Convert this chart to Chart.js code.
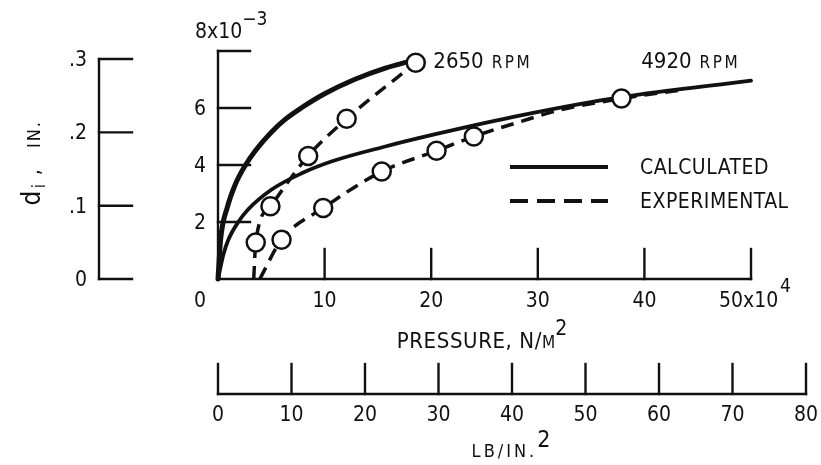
<!DOCTYPE html>
<html>
<head>
<meta charset="utf-8">
<script src="https://cdn.jsdelivr.net/npm/chart.js@4"></script>
<style>
  html, body { margin: 0; padding: 0; background: #fff; }
  #wrap { width: 821px; height: 465px; position: relative; }
</style>
</head>
<body>
<div id="wrap"><canvas id="chart"></canvas></div>
<script>
// ============================================
// Pressure vs d_i chart
// ============================================

// pressure in units of 1e4 N/m^2, d_i in units of 1e-3 m
const PSI_TO_1E4NM2 = 0.689476;   // 1 lb/in^2 = 0.689476 x 10^4 N/m^2

// axis ticks
const xTicksMain = [0, 10, 20, 30, 40, 50];
const yTicksMain = [2, 4, 6, 8];
const yTicksIn = [0, 0.1, 0.2, 0.3];
const yTickInLabels = ['0', '.1', '.2', '.3'];
const xTicksLb = [0, 10, 20, 30, 40, 50, 60, 70, 80];

// calculated curves
const calc2650X = [0, 0.25, 0.9, 1.6, 2.5, 3.5, 5.0, 6.3, 7.8, 10.0, 12.8, 15.7, 17.8];
const calc2650Y = [0, 1.4, 2.55, 3.3, 3.95, 4.5, 5.15, 5.6, 6.0, 6.5, 7.0, 7.4, 7.62];
const calc4920X = [0, 0.5, 1.0, 1.9, 2.8, 5.0, 7.8, 10.7, 15.7, 20.4, 28.4, 37.8, 50];
const calc4920Y = [0, 0.85, 1.4, 2.0, 2.43, 3.13, 3.7, 4.13, 4.65, 5.08, 5.74, 6.38, 6.96];

// experimental curves (mark = 1 where a circle is drawn)
const exp2650X = [3.35, 3.54, 4.92, 8.46, 12.07, 18.55];
const exp2650Y = [0, 1.28, 2.55, 4.32, 5.62, 7.59];
const exp2650Marks = [0, 1, 1, 1, 1, 1];
const exp4920X = [3.92, 5.96, 9.87, 15.36, 20.5, 24.0, 28.35, 32.1, 37.85, 43.4];
const exp4920Y = [0, 1.38, 2.49, 3.77, 4.5, 5.0, 5.52, 5.93, 6.33, 6.63];
const exp4920Marks = [0, 1, 1, 1, 1, 1, 0, 0, 1, 0];

const INK = '#111';
const FONT = '"DejaVu Sans Condensed", "Liberation Sans Narrow", "DejaVu Sans", sans-serif';

function pts(xs, ys) {
    return xs.map((x, i) => ({ x: x, y: ys[i] }));
}

function expDataset(xs, ys, marks) {
    return {
        data: pts(xs, ys),
        borderColor: INK,
        borderWidth: 3.5,
        borderDash: [13, 8],
        cubicInterpolationMode: 'monotone',
        pointRadius: marks.map(m => m ? 9 : 0),
        pointBackgroundColor: '#fff',
        pointBorderColor: INK,
        pointBorderWidth: 2.5,
        clip: false
    };
}

function calcDataset(xs, ys, width) {
    return {
        data: pts(xs, ys),
        borderColor: INK,
        borderWidth: width,
        borderJoinStyle: 'round',
        borderCapStyle: 'round',
        cubicInterpolationMode: 'monotone',
        pointRadius: 0,
        clip: false
    };
}

// draw a row of text pieces: [text, size, dy, letterSpacing]
function drawRuns(ctx, parts, x, y, align) {
    const setFont = p => {
        ctx.font = p[1] + 'px ' + FONT;
        ctx.letterSpacing = (p[3] || 0) + 'px';
    };
    let total = 0;
    parts.forEach(p => {
        setFont(p);
        total += ctx.measureText(p[0]).width;
    });
    let cx = align === 'center' ? x - total / 2 : align === 'right' ? x - total : x;
    ctx.textAlign = 'left';
    ctx.textBaseline = 'alphabetic';
    parts.forEach(p => {
        setFont(p);
        ctx.fillText(p[0], cx, y + (p[2] || 0));
        cx += ctx.measureText(p[0]).width;
    });
    ctx.letterSpacing = '0px';
}

function line(ctx, x1, y1, x2, y2) {
    ctx.beginPath();
    ctx.moveTo(x1, y1);
    ctx.lineTo(x2, y2);
    ctx.stroke();
}

const axesPlugin = {
    id: 'axesPlugin',
    beforeDatasetsDraw(chart) {
        const ctx = chart.ctx;
        const x = chart.scales.x, y = chart.scales.y;
        const xLb = chart.scales.xLb, yIn = chart.scales.yIn;
        const x0 = x.getPixelForValue(0), y0 = y.getPixelForValue(0);

        ctx.save();
        ctx.strokeStyle = INK;
        ctx.fillStyle = INK;
        ctx.lineWidth = 2.4;
        ctx.lineCap = 'square';

        // main axes
        line(ctx, x0, y0, x0, y.getPixelForValue(8));
        line(ctx, x0, y0, x.getPixelForValue(50), y0);
        yTicksMain.forEach(v => {
            const py = y.getPixelForValue(v);
            line(ctx, x0, py, x0 + 32, py);
            if (v < 8) drawRuns(ctx, [[String(v), 21]], x0 - 12, py + 7, 'right');
        });
        drawRuns(ctx, [['8x10', 21], ['\u22123', 19, -13]], 195, 38, 'left');
        xTicksMain.forEach(v => {
            const px = x.getPixelForValue(v);
            if (v > 0) line(ctx, px, y0, px, y0 - 30);
            if (v === 0) drawRuns(ctx, [['0', 21]], px - 18, 307, 'center');
            else if (v === 50) drawRuns(ctx, [['50x10', 21], [' ', 6], ['4', 19, -15]], px - 32, 307, 'left');
            else drawRuns(ctx, [[String(v), 21]], px, 307, 'center');
        });
        drawRuns(ctx, [['PRESSURE, N/', 22, 0, 0.6], ['M', 17], ['2', 21, -13]], 482, 348, 'center');

        // inch axis
        const axIn = 99;
        line(ctx, axIn, yIn.getPixelForValue(0), axIn, yIn.getPixelForValue(0.3));
        yTicksIn.forEach((v, i) => {
            const py = yIn.getPixelForValue(v);
            line(ctx, axIn, py, axIn + 33, py);
            drawRuns(ctx, [[yTickInLabels[i], 21]], 87, py + 7, 'right');
        });
        ctx.save();
        ctx.translate(40, 166);
        ctx.rotate(-Math.PI / 2);
        ctx.textAlign = 'center';
        ctx.textBaseline = 'alphabetic';
        ctx.font = '26px ' + FONT;
        ctx.fillText('d', -32, 0);
        ctx.font = '17px ' + FONT;
        ctx.fillText('i', -20, 5);
        ctx.font = '22px ' + FONT;
        ctx.fillText(',', -6, 0);
        ctx.font = '18px ' + FONT;
        ctx.letterSpacing = '2px';
        ctx.fillText('IN.', 32, 0);
        ctx.letterSpacing = '0px';
        ctx.restore();

        // lb/in^2 axis
        const axLb = 394;
        line(ctx, xLb.getPixelForValue(0), axLb, xLb.getPixelForValue(80), axLb);
        xTicksLb.forEach(v => {
            const px = xLb.getPixelForValue(v);
            line(ctx, px, axLb, px, axLb - 30);
            drawRuns(ctx, [[String(v), 21]], px, 421, 'center');
        });
        drawRuns(ctx, [['LB/IN.', 18, 0, 3], ['2', 23, -10]], 511, 457, 'center');

        // curve labels
        drawRuns(ctx, [['2650', 22], ['  ', 14], ['RPM', 17, 0, 2.5]], x.getPixelForValue(20.2), 68, 'left');
        drawRuns(ctx, [['4920', 22], ['  ', 14], ['RPM', 17, 0, 2.5]], x.getPixelForValue(39.7), 68, 'left');

        // legend
        ctx.lineCap = 'butt';
        ctx.lineWidth = 4;
        line(ctx, 510, 167, 608, 167);
        ctx.setLineDash([18, 9]);
        line(ctx, 510, 201, 608, 201);
        ctx.setLineDash([]);
        drawRuns(ctx, [['CALCULATED', 21, 0, 0.5]], 640, 174, 'left');
        drawRuns(ctx, [['EXPERIMENTAL', 21, 0, 0.5]], 640, 208, 'left');
        ctx.restore();
    }
};

new Chart(document.getElementById('chart'), {
    type: 'line',
    data: {
        datasets: [
            expDataset(exp2650X, exp2650Y, exp2650Marks),
            expDataset(exp4920X, exp4920Y, exp4920Marks),
            calcDataset(calc2650X, calc2650Y, 5),
            calcDataset(calc4920X, calc4920Y, 3.8)
        ]
    },
    options: {
        responsive: true,
        maintainAspectRatio: false,
        animation: false,
        events: [],
        layout: { padding: { left: 218, right: 15, top: 51, bottom: 186 } },
        plugins: {
            legend: { display: false },
            tooltip: { enabled: false }
        },
        scales: {
            x: { type: 'linear', min: 0, max: 80 * PSI_TO_1E4NM2, display: false },
            xLb: { type: 'linear', axis: 'x', min: 0, max: 80, display: false },
            y: { type: 'linear', min: 0, max: 8, display: false },
            yIn: { type: 'linear', axis: 'y', min: 0, max: 0.311, display: false }
        }
    },
    plugins: [axesPlugin]
});
</script>
</body>
</html>
